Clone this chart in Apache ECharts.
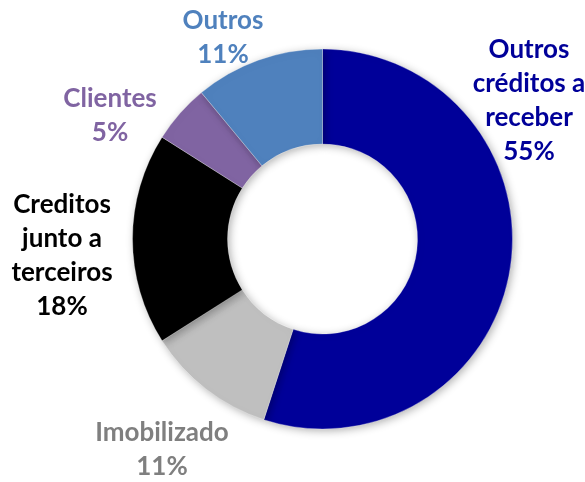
<!DOCTYPE html>
<html>
<head>
<meta charset="utf-8">
<script src="https://cdn.jsdelivr.net/npm/echarts@6/dist/echarts.min.js"></script>
<style>
  html, body { margin: 0; padding: 0; background: #fff; }
  #pie { width: 585px; height: 482px; }
</style>
</head>
<body>
<div id="pie"></div>
<script>
// categorias (com quebras de linha como no gráfico)
const categories = ['Outros\ncréditos a\nreceber', 'Imobilizado', 'Creditos\njunto a\nterceiros', 'Clientes', 'Outros']
// percentuais
const values = [55, 11, 18, 5, 11]
// cores das fatias e dos rótulos
const sliceColors = ['#000099', '#bfbfbf', '#000000', '#8064a2', '#4f81bd']
const labelColors = ['#000099', '#7f7f7f', '#000000', '#8064a2', '#4f81bd']

// posição dos rótulos (centro do bloco de texto)
const labelPos = [[529, 101], [162, 450], [62, 256], [110, 116], [223, 38]]

const myChart = echarts.init(document.querySelector('#pie'))

const option = {
  animation: false,
  series: [
    {
      type: 'pie',
      center: [322.5, 239],
      radius: [95, 190],
      startAngle: 90,
      clockwise: true,
      avoidLabelOverlap: false,
      data: categories.map((name, i) => ({
        name,
        value: values[i],
        itemStyle: { color: sliceColors[i] },
        label: { color: labelColors[i] }
      })),
      itemStyle: {
        borderColor: 'rgba(255,255,255,0.6)',
        borderWidth: 0.5,
        shadowBlur: 8,
        shadowOffsetX: 2,
        shadowOffsetY: 2,
        shadowColor: 'rgba(0,0,0,0.3)'
      },
      label: {
        show: true,
        position: 'outside',
        formatter: p => p.name + '\n' + p.value + '%',
        fontFamily: 'Lato',
        fontWeight: 'bold',
        fontSize: 26,
        lineHeight: 34,
        align: 'center'
      },
      labelLine: { show: false },
      labelLayout: params => ({
        x: labelPos[params.dataIndex][0],
        y: labelPos[params.dataIndex][1],
        align: 'center',
        verticalAlign: 'middle'
      }),
      emphasis: { disabled: true }
    }
  ]
}
myChart.setOption(option)
</script>
</body>
</html>
